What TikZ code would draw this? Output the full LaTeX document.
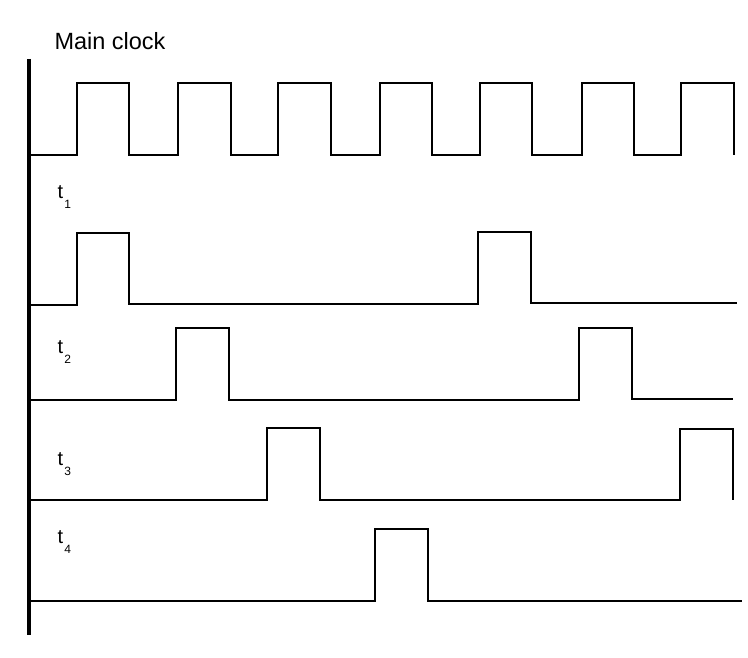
\documentclass[tikz,border=0pt]{standalone}
\usepackage{fontspec}
\setmainfont{Liberation Sans}
\begin{document}
\begin{tikzpicture}[x=1pt,y=-1pt,
  sig/.style={line width=2pt,line join=miter,black},
  axisline/.style={line width=4pt,black},
  lbl/.style={anchor=base west,inner sep=0pt,outer sep=0pt},
  tlbl/.style={anchor=base west,inner sep=0pt,outer sep=0pt,font=\fontsize{20}{24}\selectfont}]
\useasboundingbox (0,0) rectangle (748,658);
% axis
\coordinate (axtop) at (29,59);
\coordinate (axbot) at (29,635);
\draw[axisline] (axtop) -- (axbot);
% labels
\node[lbl,font=\fontsize{23.5}{28}\selectfont] (mc) at (54.5,49.5) {Main clock};
\node[tlbl] (t1) at (57.5,199) {t\kern1.2pt\raisebox{-10pt}{\fontsize{12}{14}\selectfont 1}};
\node[tlbl] (t2) at (57.5,353) {t\kern1.2pt\raisebox{-10pt}{\fontsize{12}{14}\selectfont 2}};
\node[tlbl] (t3) at (57.5,465) {t\kern1.2pt\raisebox{-10pt}{\fontsize{12}{14}\selectfont 3}};
\node[tlbl] (t4) at (57.5,543) {t\kern1.2pt\raisebox{-10pt}{\fontsize{12}{14}\selectfont 4}};
% main clock
\draw[sig] (31,155) -- (77,155) -- (77,83) -- (129,83) -- (129,155)
  -- (178,155) -- (178,83) -- (231,83) -- (231,155)
  -- (278,155) -- (278,83) -- (331,83) -- (331,155)
  -- (380,155) -- (380,83) -- (432,83) -- (432,155)
  -- (480,155) -- (480,83) -- (532,83) -- (532,155)
  -- (582,155) -- (582,83) -- (634,83) -- (634,155)
  -- (681,155) -- (681,83) -- (734,83) -- (734,155);
% t1
\draw[sig] (31,305) -- (77,305) -- (77,233) -- (129,233) -- (129,304)
  -- (478,304) -- (478,232) -- (531,232) -- (531,303) -- (737,303);
% t2
\draw[sig] (31,400) -- (176,400) -- (176,328) -- (229,328) -- (229,400)
  -- (579,400) -- (579,328) -- (632,328) -- (632,399) -- (733,399);
% t3
\draw[sig] (31,500) -- (267,500) -- (267,428) -- (320,428) -- (320,500)
  -- (680,500) -- (680,429) -- (733,429) -- (733,500);
% t4
\draw[sig] (31,601) -- (375,601) -- (375,529) -- (428,529) -- (428,601) -- (742,601);
\end{tikzpicture}
\end{document}
